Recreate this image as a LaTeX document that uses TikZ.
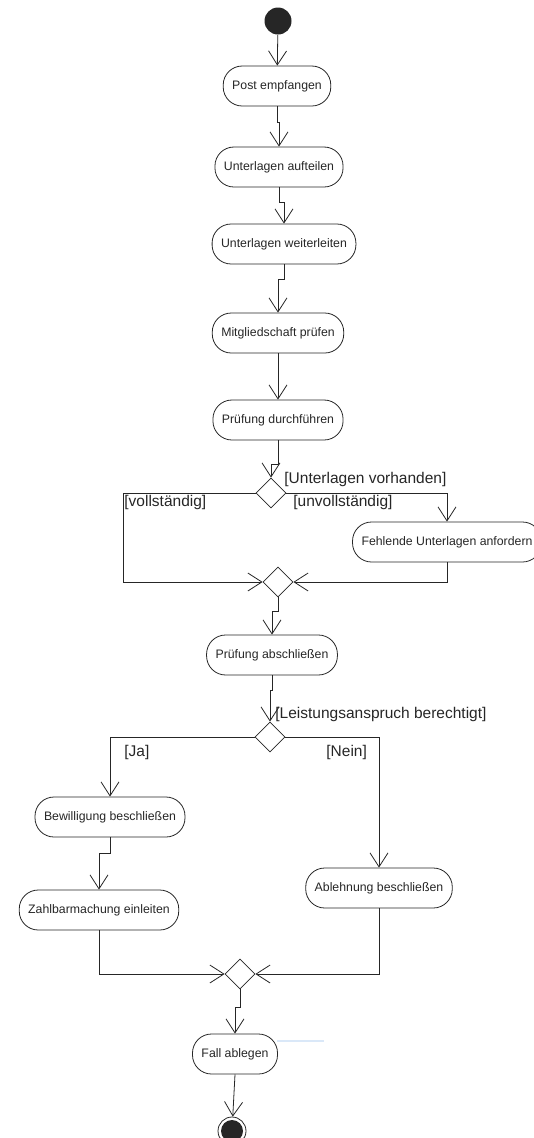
\documentclass[tikz,border=0pt]{standalone}
\usepackage{fontspec}
\setmainfont{Liberation Sans}
\usetikzlibrary{shapes.geometric}
\usetikzlibrary{arrows.meta}
\definecolor{hellblau}{RGB}{218,232,248}
\tikzset{
  activity/.style={draw, rounded corners=19pt, minimum height=40pt, inner xsep=9pt,
    font=\fontsize{12.3}{14}\selectfont},
  decision/.style={draw, diamond, minimum width=30pt, minimum height=30pt, inner sep=0pt},
  guard/.style={anchor=west, inner sep=0pt, font=\fontsize{15.5}{18}\selectfont},
  endstate/.style={draw, circle, minimum size=28pt, inner sep=0pt,
    path picture={\fill (path picture bounding box.center) circle (11pt);}},
  flow/.style={-{Straight Barb[length=14pt,width=18pt]}},
}
\begin{document}
\begin{tikzpicture}[x=1pt,y=-1pt,line width=0.8pt,color=black!85]
        \useasboundingbox (0,0) rectangle (534,1138);
        %Start + Ende
        \node [circle, fill, minimum size=27pt, inner sep=0pt] (start) at (278,21) {};
        \node [endstate] (ende) at (232,1131) {};
        %Aktivitaeten
        \node [activity] (post) at (277,86) {Post empfangen};
        \node [activity] (aufteilen) at (279,167) {Unterlagen aufteilen};
        \node [activity] (weiter) at (284,244) {Unterlagen weiterleiten};
        \node [activity] (mitglied) at (278,333) {Mitgliedschaft prüfen};
        \node [activity] (durchf) at (278,420) {Prüfung durchführen};
        \node [activity] (fehlende) at (447,542) {Fehlende Unterlagen anfordern};
        \node [activity] (abschl) at (272,655) {Prüfung abschließen};
        \node [activity] (bewill) at (110,817) {Bewilligung beschließen};
        \node [activity] (zahlbar) at (99,910) {Zahlbarmachung einleiten};
        \node [activity] (ablehn) at (379,888) {Ablehnung beschließen};
        \node [activity] (fall) at (235,1054) {Fall ablegen};
        %Entscheidungen
        \node [decision] (dec1) at (271,493) {};
        \node [decision] (merge1) at (278,582) {};
        \node [decision] (dec2) at (270,737) {};
        \node [decision] (merge2) at (240,974) {};
        %Bedingungen
        \node [guard] (gVorh) at (284,479) {[Unterlagen vorhanden]};
        \node [guard] (gVoll) at (124,502) {[vollständig]};
        \node [guard] (gUnvoll) at (293,502) {[unvollständig]};
        \node [guard] (gLeist) at (275,714) {[Leistungsanspruch berechtigt]};
        \node [guard] (gJa) at (124,752) {[Ja]};
        \node [guard] (gNein) at (326,752) {[Nein]};
        \coordinate (cVoll) at (123,582);
        %Pfeile
        \draw [flow] (start) -- (post);
        \draw [flow] (post.south) -- ++(0,16) -| (aufteilen.north);
        \draw [flow] (aufteilen.south) -- ++(0,15) -| (weiter.north);
        \draw [flow] (weiter.south) -- ++(0,15) -| (mitglied.north);
        \draw [flow] (mitglied) -- (durchf);
        \draw [flow] (durchf.south) -- ++(0,24) -| (dec1.north);
        \draw [flow] (dec1.east) -| (fehlende.north);
        \draw [flow] (dec1.west) -| (cVoll) -- (merge1.west);
        \draw [flow] (fehlende.south) |- (merge1.east);
        \draw [flow] (merge1.south) -- ++(0,14) -| (abschl.north);
        \draw [flow] (abschl.south) -- ++(0,15) -| (dec2.north);
        \draw [flow] (dec2.west) -| (bewill.north);
        \draw [flow] (dec2.east) -| (ablehn.north);
        \draw [flow] (bewill.south) -- ++(0,16) -| (zahlbar.north);
        \draw [flow] (zahlbar.south) |- (merge2.west);
        \draw [flow] (ablehn.south) |- (merge2.east);
        \draw [flow] (merge2.south) -- ++(0,18) -| (fall.north);
        \draw [flow] (fall.south) -- (ende);
        %Linie
        \draw [hellblau, line width=1.5pt] (277,1041) -- (324,1041);
\end{tikzpicture}
\end{document}
